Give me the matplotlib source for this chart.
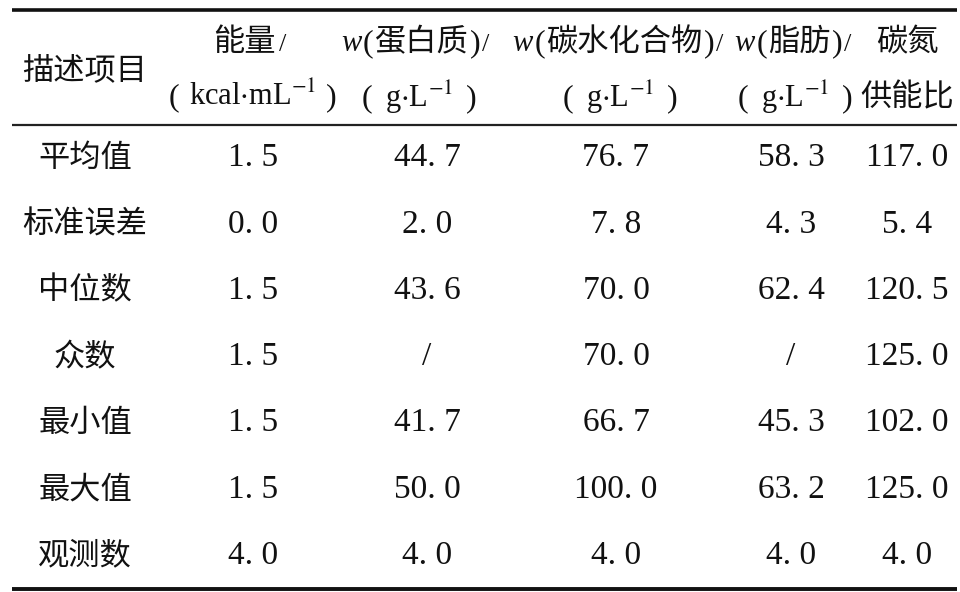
import matplotlib
matplotlib.use("Agg")
from matplotlib import pyplot as plt
from matplotlib.offsetbox import TextArea, HPacker, AnnotationBbox

plt.rcParams['mathtext.fontset'] = 'stix'

CJK = 'Noto Sans CJK SC'
SERIF = 'Liberation Serif'

row_labels = ['平均值', '标准误差', '中位数', '众数', '最小值', '最大值', '观测数']
energy = [1.5, 0.0, 1.5, 1.5, 1.5, 1.5, 4.0]
protein = [44.7, 2.0, 43.6, None, 41.7, 50.0, 4.0]
carbs = [76.7, 7.8, 70.0, 70.0, 66.7, 100.0, 4.0]
fat = [58.3, 4.3, 62.4, None, 45.3, 63.2, 4.0]
cn_ratio = [117.0, 5.4, 120.5, 125.0, 102.0, 125.0, 4.0]
columns = [energy, protein, carbs, fat, cn_ratio]

col_x = [85, 253, 427, 616, 791, 907]
head_y1, head_y2 = 42, 97
row_y0, row_step = 158, 66.3

cjk_size = 22.5
num_size = 24


def cjk(s, size=cjk_size):
    return TextArea(s, textprops=dict(family=[CJK, 'DejaVu Sans'], size=size, color='#111111'))


def ser(s, size=num_size, style='normal'):
    return TextArea(s, textprops=dict(family=SERIF, size=size, style=style, color='#111111'))


def put(ax, parts, x, y, sep=0):
    box = HPacker(children=parts, pad=0, sep=sep, align='baseline')
    ab = AnnotationBbox(box, (x, y), xycoords='data', frameon=False,
                        box_alignment=(0.5, 0.5), pad=0)
    ax.add_artist(ab)


fig = plt.figure(figsize=(9.6, 5.92), dpi=100)
ax = fig.add_axes([0, 0, 1, 1])
ax.set_xlim(0, 960)
ax.set_ylim(592, 0)
ax.axis('off')

# rules
ax.plot([12, 957], [10, 10], color='#111111', lw=2.6, solid_capstyle='butt')
ax.plot([12, 957], [125, 125], color='#222222', lw=1.6, solid_capstyle='butt')
ax.plot([12, 957], [589, 589], color='#111111', lw=2.8, solid_capstyle='butt')

# header
ax.text(col_x[0], 70, '描述项目', family=[CJK, 'DejaVu Sans'], size=cjk_size,
        ha='center', va='center', color='#111111')
put(ax, [cjk('能量'), ser('/', 19)], col_x[1] - 3, head_y1, sep=2)
put(ax, [ser('(', 23), ser(r'kcal$\cdot$mL$^{-1}$', 22), ser(')', 23)], col_x[1], head_y2, sep=7)
for i, name in [(2, '蛋白质'), (3, '碳水化合物'), (4, '脂肪')]:
    dx = -12 if i == 2 else 2
    put(ax, [ser('w', 22, 'italic'), ser('(', 23), cjk(name), ser(')', 23), ser('/', 19)],
        col_x[i] + dx, head_y1, sep=1)
    put(ax, [ser('(', 23), ser(r'g$\cdot$L$^{-1}$', 22), ser(')', 23)],
        col_x[i] - 8 if i == 2 else col_x[i] + 4, head_y2, sep=9)
ax.text(col_x[5], head_y1, '碳氮', family=[CJK, 'DejaVu Sans'], size=cjk_size,
        ha='center', va='center', color='#111111')
ax.text(col_x[5], head_y2, '供能比', family=[CJK, 'DejaVu Sans'], size=cjk_size,
        ha='center', va='center', color='#111111')

# body
for r, label in enumerate(row_labels):
    y = row_y0 + r * row_step
    ax.text(col_x[0], y, label, family=[CJK, 'DejaVu Sans'], size=cjk_size,
            ha='center', va='center', color='#111111')
    for c, col in enumerate(columns):
        v = col[r]
        s = '/' if v is None else f'{v:.1f}'.replace('.', '. ')
        ax.text(col_x[c + 1], y, s, family=SERIF, size=num_size,
                ha='center', va='center', color='#111111')

fig.savefig('out.png', dpi=100, facecolor='white')
